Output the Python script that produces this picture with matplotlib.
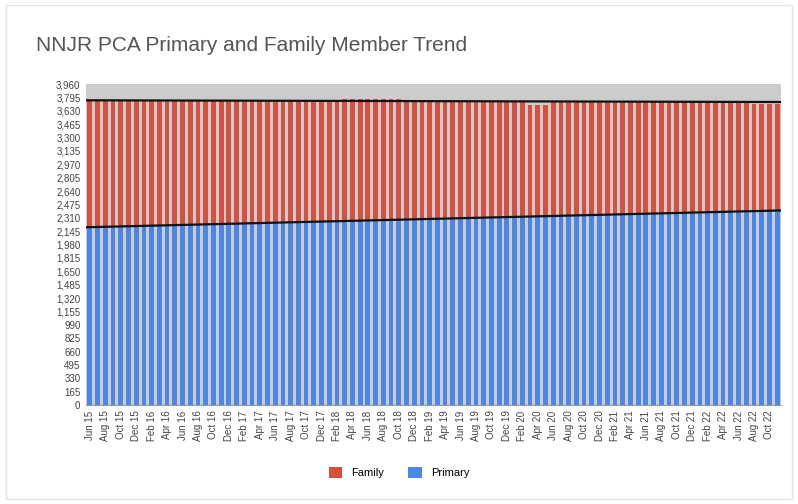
import matplotlib.pyplot as plt
import numpy as np
from matplotlib.patches import Rectangle

plt.rcParams['font.family'] = ['Liberation Sans', 'DejaVu Sans']

# one bar per month, Jun 2015 .. Nov 2022
month_names = ['Jan', 'Feb', 'Mar', 'Apr', 'May', 'Jun',
               'Jul', 'Aug', 'Sep', 'Oct', 'Nov', 'Dec']
months = []
for k in range(90):
    m = 5 + k
    months.append("%s %02d" % (month_names[m % 12], 15 + m // 12))

primary = [
    2195, 2197, 2199, 2201, 2203, 2205, 2207, 2210, 2212, 2214,
    2216, 2218, 2220, 2222, 2224, 2226, 2228, 2230, 2232, 2234,
    2236, 2238, 2240, 2242, 2244, 2246, 2249, 2251, 2254, 2257,
    2260, 2263, 2266, 2269, 2272, 2275, 2278, 2281, 2284, 2287,
    2290, 2293, 2296, 2299, 2302, 2304, 2306, 2309, 2311, 2313,
    2315, 2318, 2320, 2322, 2324, 2326, 2329, 2331, 2333, 2335,
    2337, 2340, 2342, 2344, 2346, 2348, 2350, 2351, 2353, 2355,
    2357, 2359, 2360, 2362, 2364, 2366, 2368, 2369, 2371, 2373,
    2375, 2376, 2378, 2380, 2381, 2383, 2384, 2386, 2387, 2388,
]

total = [
    3752, 3750, 3748, 3751, 3749, 3750, 3747, 3752, 3750, 3748,
    3746, 3749, 3751, 3748, 3750, 3752, 3749, 3751, 3753, 3750,
    3748, 3752, 3750, 3749, 3751, 3753, 3750, 3752, 3755, 3758,
    3762, 3765, 3768, 3772, 3775, 3774, 3776, 3773, 3775, 3772,
    3770, 3766, 3760, 3757, 3754, 3752, 3750, 3748, 3751, 3749,
    3750, 3747, 3749, 3751, 3748, 3735, 3750, 3700, 3695, 3705,
    3752, 3750, 3748, 3751, 3749, 3750, 3752, 3748, 3751, 3749,
    3750, 3748, 3751, 3749, 3752, 3750, 3747, 3749, 3740, 3745,
    3738, 3742, 3736, 3744, 3739, 3720, 3715, 3718, 3712, 3716,
]

family = [t - p for t, p in zip(total, primary)]

yticks = np.arange(0, 3961, 165)

fig = plt.figure(figsize=(7.98, 5.04), dpi=100)
fig.patches.append(Rectangle((0.008, 0.01), 0.984, 0.98, transform=fig.transFigure,
                             fill=False, ec='#e4e4e4', lw=1))

ax = fig.add_axes([0.1078, 0.1964, 0.8709, 0.6369])
ax.set_facecolor('#cccccc')

x = np.arange(len(months))
ax.bar(x, primary, width=0.62, color='#4a86e8', lw=0, label='Primary')
ax.bar(x, family, width=0.62, bottom=primary, color='#d6503f', lw=0, label='Family')

# linear trendlines for primary and total
xx = np.array([-0.5, len(months) - 0.5])
for series in (primary, total):
    a, b = np.polyfit(x, series, 1)
    ax.plot(xx, a * xx + b, color='#111111', lw=1.6)

ax.set_xlim(-0.5, len(months) - 0.5)
ax.set_ylim(0, 3960)
ax.set_yticks(yticks)
ax.set_yticklabels(["{:,}".format(v) for v in yticks], fontsize=7, color='#444444')
ax.set_xticks(x[::2])
ax.set_xticklabels(months[::2], rotation=90, fontsize=7, color='#444444')
ax.tick_params(length=0, pad=4)
for s in ['top', 'right', 'left']:
    ax.spines[s].set_visible(False)
ax.spines['bottom'].set_color('#999999')

fig.text(0.045, 0.909, "NNJR PCA Primary and Family Member Trend",
         fontsize=15, color='#555555', va='center', ha='left')

handles, labels = ax.get_legend_handles_labels()
fig.legend(handles[::-1], labels[::-1], loc='center', bbox_to_anchor=(0.5, 0.062),
           ncol=2, frameon=False, fontsize=8, handlelength=1.2, handleheight=1.2,
           columnspacing=2.2, handletextpad=0.8)

fig.savefig('out.png', dpi=100)
